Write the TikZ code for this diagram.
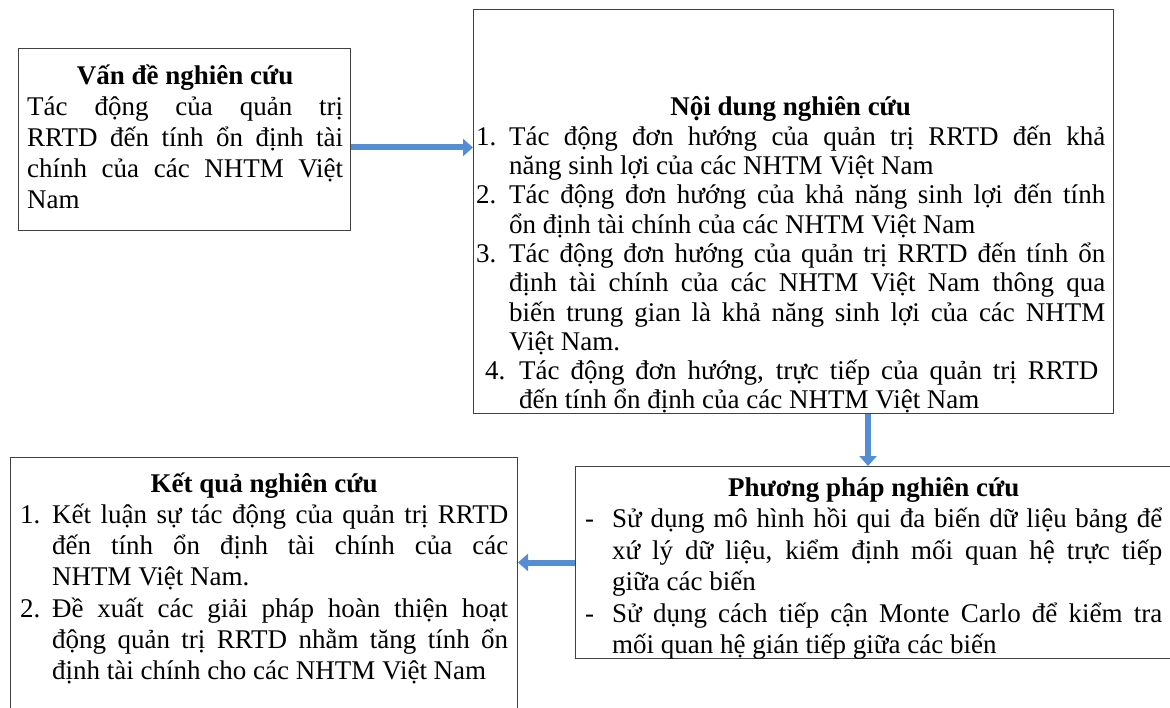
\documentclass[tikz,border=0pt]{standalone}
\usepackage{fontspec}
\setmainfont{Liberation Serif}
\usetikzlibrary{arrows.meta}
\definecolor{muiten}{RGB}{84,141,212}
% muc: nhan, thut dong, noi dung
\newcommand{\muc}[3]{\par\hangindent=#2\hangafter=1\noindent\makebox[#2][l]{#1}#3\par}
\newcommand{\tieude}[1]{\makebox[\linewidth]{\bfseries #1}\par}
\tikzset{
  khung/.style={draw=black!75, line width=1pt, anchor=north west, inner sep=0pt},
  chu/.style={anchor=base west, inner sep=0pt, align=justify},
  muiten/.style={draw=muiten, line width=6pt, -{Triangle[length=10pt,width=17pt]}}
}

\begin{document}
\begin{tikzpicture}[x=1pt,y=-1pt]
        \useasboundingbox (0,0) rectangle (1170,708);
        \clip (0,0) rectangle (1170,708);
%        \draw [help lines] (0,0) grid[step=50] (1170,708);
        \node [khung, minimum width=332pt, minimum height=182pt] (vande) at (18,48) {};
        \node [khung, minimum width=640pt, minimum height=404pt] (noidung) at (473,9) {};
        \node [khung, minimum width=610pt, minimum height=192pt] (phuongphap) at (575,466) {};
        \node [khung, minimum width=507pt, minimum height=270pt] (ketqua) at (10,457) {};

        \node [chu, text width=316pt, font=\fontsize{27}{31}\selectfont] (vandechu) at (27,85) {%
          \tieude{Vấn đề nghiên cứu}
          Tác động của quản trị\linebreak RRTD đến tính ổn định tài\linebreak chính của các NHTM Việt\linebreak Nam};
        \node [chu, text width=629pt, font=\fontsize{27}{29.3}\selectfont] (noidungchu) at (476,116) {%
          \tieude{Nội dung nghiên cứu}
          \muc{1.}{33pt}{Tác động đơn hướng của quản trị RRTD đến khả\linebreak năng sinh lợi của các NHTM Việt Nam}
          \muc{2.}{33pt}{Tác động đơn hướng của khả năng sinh lợi đến tính\linebreak ổn định tài chính của các NHTM Việt Nam}
          \muc{3.}{33pt}{Tác động đơn hướng của quản trị RRTD đến tính ổn\linebreak định tài chính của các NHTM Việt Nam thông qua\linebreak biến trung gian là khả năng sinh lợi của các NHTM\linebreak Việt Nam.}
          {\leftskip=9pt\rightskip=7pt
          \muc{4.}{34pt}{Tác động đơn hướng, trực tiếp của quản trị RRTD\linebreak đến tính ổn định của các NHTM Việt Nam}}};
        \node [chu, text width=577pt, font=\fontsize{27}{31.5}\selectfont] (phuongphapchu) at (585,496) {%
          \tieude{Phương pháp nghiên cứu}
          \muc{-}{27pt}{Sử dụng mô hình hồi qui đa biến dữ liệu bảng để\linebreak xứ lý dữ liệu, kiểm định mối quan hệ trực tiếp\linebreak giữa các biến}
          \muc{-}{27pt}{Sử dụng cách tiếp cận Monte Carlo để kiểm tra\linebreak mối quan hệ gián tiếp giữa các biến}};
        \node [chu, text width=488pt, font=\fontsize{27}{31.3}\selectfont] (ketquachu) at (20,492) {%
          \tieude{Kết quả nghiên cứu}
          \muc{1.}{32pt}{Kết luận sự tác động của quản trị RRTD\linebreak đến tính ổn định tài chính của các\linebreak NHTM Việt Nam.}
          \muc{2.}{32pt}{Đề xuất các giải pháp hoàn thiện hoạt\linebreak động quản trị RRTD nhằm tăng tính ổn\linebreak định tài chính cho các NHTM Việt Nam}};

        \coordinate (doc) at (868,0);
        \draw [muiten] ([yshift=-8pt]vande.east) -- ([yshift=-8pt]vande.east -| noidung.west);
        \draw [muiten] (noidung.south -| doc) -- (phuongphap.north -| doc);
        \draw [muiten] (phuongphap.west) -- (phuongphap.west -| ketqua.east);
\end{tikzpicture}
\end{document}
